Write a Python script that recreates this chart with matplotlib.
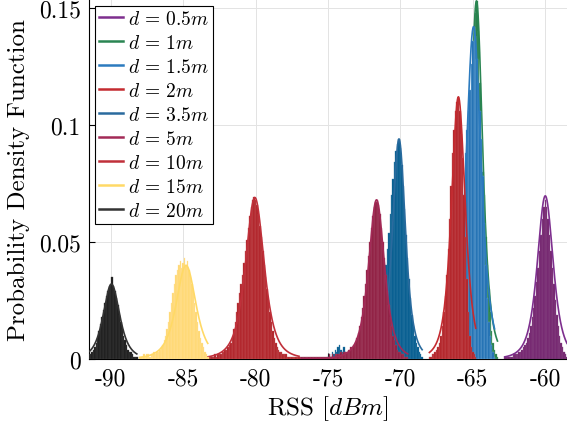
import numpy as np
import matplotlib
matplotlib.use("Agg")
import matplotlib.pyplot as plt

plt.rcParams["font.family"] = "serif"
plt.rcParams["font.serif"] = ["cmr10"]
plt.rcParams["mathtext.fontset"] = "cm"
plt.rcParams["axes.unicode_minus"] = False

# ---- measured RSS histograms (probability per 0.1 dBm bin) ----
labels = [r"$d\,=\,0.5m$", r"$d\,=\,1m$", r"$d\,=\,1.5m$", r"$d\,=\,2m$", r"$d\,=\,3.5m$",
          r"$d\,=\,5m$", r"$d\,=\,10m$", r"$d\,=\,15m$", r"$d\,=\,20m$"]
bin_width = 0.1
bin_start = [-62.8, -65.6, -66.2, -68.0, -75.0, -77.0, -83.3, -88.0, -91.5]

h_05 = [0.001, 0.001, 0.001, 0.001, 0.001, 0.001, 0.002, 0.002, 0.002, 0.002, 0.003, 0.003,
        0.004, 0.005, 0.006, 0.007, 0.009, 0.011,
        0.014, 0.018, 0.022, 0.027, 0.033, 0.039, 0.046, 0.053, 0.060, 0.065,
        0.068, 0.065, 0.060, 0.053, 0.046, 0.039, 0.032, 0.025, 0.019, 0.014, 0.010, 0.007,
        0.005, 0.003, 0.002, 0.001]
h_1 = [0.002, 0.006, 0.014, 0.028, 0.050, 0.078, 0.105, 0.130, 0.148,
       0.153, 0.140, 0.118, 0.090, 0.080, 0.070, 0.052, 0.040, 0.030, 0.020, 0.012, 0.007,
       0.004, 0.002, 0.001]
h_15 = [0.002, 0.004, 0.008, 0.015, 0.028, 0.048, 0.070, 0.088, 0.098, 0.106, 0.115, 0.126, 0.136,
        0.142, 0.138, 0.128, 0.118, 0.106, 0.094, 0.078, 0.058, 0.040, 0.026, 0.016, 0.010,
        0.006, 0.003, 0.001]
h_2 = [0.001, 0.001, 0.002, 0.002, 0.003, 0.004, 0.005, 0.007, 0.010, 0.014,
       0.020, 0.027, 0.036, 0.047, 0.060, 0.074, 0.088, 0.098, 0.106, 0.110,
       0.112, 0.106, 0.096, 0.086, 0.070, 0.052, 0.034, 0.020, 0.010, 0.005, 0.003, 0.002, 0.001]
h_35 = [0.001, 0.002, 0.001, 0.003, 0.002, 0.004, 0.003, 0.005, 0.006, 0.004, 0.003, 0.005,
        0.003, 0.002, 0.003, 0.002, 0.002, 0.001, 0.002, 0.002, 0.002, 0.002, 0.003, 0.002,
        0.003, 0.003, 0.004, 0.004, 0.005, 0.006,
        0.007, 0.008, 0.010, 0.012, 0.014, 0.017, 0.020, 0.024, 0.029, 0.034, 0.040, 0.047,
        0.054, 0.062, 0.070, 0.077, 0.084, 0.089, 0.092,
        0.094, 0.090, 0.083, 0.074, 0.064, 0.053, 0.043, 0.034, 0.026, 0.019, 0.014, 0.010,
        0.007, 0.005, 0.003, 0.002, 0.001]
h_5 = [0.001] * 20 + [0.001, 0.002, 0.001, 0.002, 0.001, 0.002, 0.002, 0.002, 0.002, 0.003,
                      0.002, 0.003, 0.003, 0.003, 0.004, 0.004, 0.005, 0.005, 0.006, 0.007] + \
      [0.009, 0.011, 0.014, 0.018, 0.022, 0.027, 0.032, 0.038, 0.044, 0.050, 0.056, 0.061, 0.065, 0.067,
       0.068, 0.066, 0.062, 0.056, 0.050, 0.043, 0.036, 0.029, 0.023, 0.018, 0.014, 0.010,
       0.008, 0.006, 0.004, 0.003, 0.003, 0.002, 0.002, 0.001, 0.001, 0.001]
h_10 = [0.001, 0.001, 0.001, 0.001, 0.001, 0.002, 0.001, 0.002, 0.002, 0.002, 0.003, 0.003,
        0.004, 0.004, 0.005, 0.006, 0.007, 0.009,
        0.013, 0.016, 0.020, 0.024, 0.028, 0.032, 0.036, 0.041, 0.046, 0.051, 0.056, 0.061,
        0.065, 0.068, 0.069,
        0.068, 0.066, 0.062, 0.057, 0.052, 0.046, 0.040, 0.035, 0.030, 0.025, 0.020, 0.016,
        0.012, 0.009, 0.007,
        0.005, 0.004, 0.003, 0.003, 0.002, 0.002, 0.002, 0.001, 0.001, 0.001, 0.001, 0.001,
        0.001, 0.001, 0.001, 0.001]
h_15m = [0.001, 0.001, 0.001, 0.002, 0.001, 0.002, 0.002, 0.001, 0.002, 0.002, 0.003, 0.002,
         0.003, 0.003, 0.004,
         0.005, 0.006, 0.008, 0.010, 0.013, 0.016, 0.020, 0.024, 0.028, 0.032, 0.036, 0.038,
         0.040, 0.042, 0.039, 0.041, 0.043, 0.040, 0.042,
         0.038, 0.035, 0.032, 0.028, 0.024, 0.020, 0.016, 0.012, 0.009, 0.007, 0.005, 0.003,
         0.002, 0.001]
h_20 = [0.002, 0.002, 0.003, 0.004, 0.005, 0.007, 0.009, 0.012, 0.015, 0.018, 0.021, 0.024,
        0.027, 0.029, 0.031, 0.032, 0.035, 0.031, 0.029, 0.026, 0.023, 0.019, 0.016, 0.013,
        0.010, 0.008, 0.006, 0.004, 0.003, 0.003, 0.002, 0.001, 0.001, 0.001]
heights = [h_05, h_1, h_15, h_2, h_35, h_5, h_10, h_15m, h_20]

# ---- fitted t location-scale curves (nu = 3), scaled to the bin probability ----
fit_mu = [-60.0, -64.75, -64.95, -66.0, -70.1, -71.65, -80.05, -84.8, -89.95]
fit_scale = [0.58, 0.45, 0.55, 0.50, 0.47, 0.58, 0.68, 0.72, 0.60]
fit_peak = [0.0697, 0.153, 0.142, 0.112, 0.094, 0.068, 0.069, 0.040, 0.032]
fit_nu = 3.0

fill_colors = ["#74246F", "#1E7B45", "#1468AE", "#B01F24", "#005A8E",
               "#8E1A3E", "#AE1E24", "#FFD770", "#1A1A1A"]
edge_colors = ["#8A4A86", "#5FA57A", "#7FB3DA", "#C8585C", "#3A7FA8",
               "#A8506E", "#C65A5E", "#FFE49E", "#444444"]
line_colors = ["#7E2F8E", "#2A8552", "#2C7BBF", "#C42B30", "#2A6B9E",
               "#A32A57", "#C0303A", "#FFD966", "#333333"]

fig = plt.figure(figsize=(5.67, 4.27), dpi=100)
ax = fig.add_axes([89 / 567, 67 / 427, 478 / 567, 360 / 427])
ax.set_axisbelow(True)
ax.grid(True, color="#E3E3E3", linewidth=0.7)

# each distance: histogram first, then its fitted curve on top
handles = []
for k in range(len(labels)):
    h = np.array(heights[k])
    n = len(h)
    x = bin_start[k] + bin_width * np.arange(n)
    z0 = 2 + 2 * k
    ax.bar(x, h, width=bin_width, align="center", color=fill_colors[k],
           edgecolor=edge_colors[k], linewidth=0.25, zorder=z0)
    xs = np.linspace(bin_start[k], bin_start[k] + bin_width * (n - 1), 400)
    z = (xs - fit_mu[k]) / fit_scale[k]
    ys = fit_peak[k] * (1 + z ** 2 / fit_nu) ** (-(fit_nu + 1) / 2)
    ln, = ax.plot(xs, ys, color=line_colors[k], linewidth=1.2, zorder=z0 + 1,
                  label=labels[k])
    handles.append(ln)

ax.set_xlim(-91.5, -58.5)
ax.set_ylim(0, 0.1538)
xticks = [-90, -85, -80, -75, -70, -65, -60]
ax.set_xticks(xticks)
ax.set_xticklabels([str(t) for t in xticks])
yticks = [0, 0.05, 0.1, 0.15]
ax.set_yticks(yticks)
ax.set_yticklabels(["0", "0.05", "0.1", "0.15"])
ax.tick_params(direction="in", length=4, width=0.8, labelsize=17, pad=6)
for s in ["top", "right"]:
    ax.spines[s].set_visible(False)
for s in ["left", "bottom"]:
    ax.spines[s].set_linewidth(0.8)

ax.set_xlabel(r"RSS $[dBm]$", fontsize=18, labelpad=3)
ax.set_ylabel("Probability Density Function", fontsize=18, labelpad=6)

leg = ax.legend(handles=handles, loc="upper left", bbox_to_anchor=(0.0126, 0.981),
                borderaxespad=0, fontsize=14, handlelength=1.25, handletextpad=0.25,
                labelspacing=0.31, borderpad=0.2, fancybox=False, framealpha=1,
                edgecolor="black")
leg.get_frame().set_linewidth(0.8)
for line in leg.get_lines():
    line.set_linewidth(1.8)

fig.savefig("out.png", dpi=100)
